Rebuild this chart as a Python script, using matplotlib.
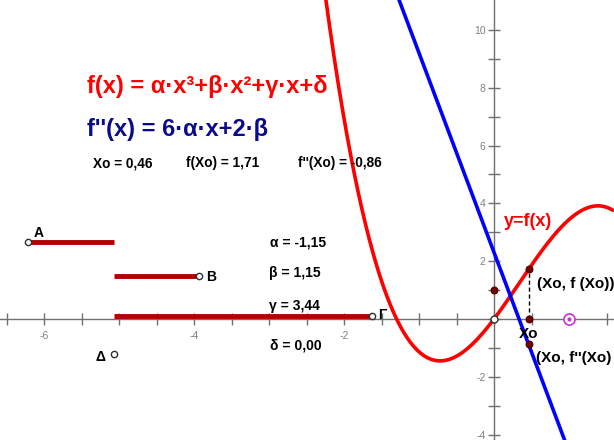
import matplotlib.pyplot as plt
import numpy as np

plt.rcParams['font.family'] = ['Liberation Sans', 'DejaVu Sans']

# slider values and the chosen point Xo
alpha, beta, gamma, delta = -1.15, 1.15, 3.44, 0.00
x0 = 0.46
fx0_txt = '1,71'
f2x0_txt = '-0,86'

x_ticks = np.arange(-6.5, 1.51, 0.5)
x_labels = [-6, -4, -2]
y_ticks = np.arange(-4, 11)
y_labels = [-4, -2, 2, 4, 6, 8, 10]

W, H = 614, 440
fig = plt.figure(figsize=(W / 100, H / 100), dpi=100)
ax = fig.add_axes([0, 0, 1, 1])
ax.set_xlim(-6.59, 1.60)
ax.set_ylim(-4.19, 11.04)


def ftxt(px, py, s, **kw):
    # place text by pixel position of the picture
    fig.text(px / W, 1 - py / H, s, zorder=1, **kw)


# ------------------------------- axes ------------------------------- #
for side in ['top', 'right']:
    ax.spines[side].set_visible(False)
for side in ['left', 'bottom']:
    ax.spines[side].set_position(('data', 0))
    ax.spines[side].set_color('#707070')
    ax.spines[side].set_linewidth(1)
    ax.spines[side].set_zorder(0.5)

ax.set_xticks(x_ticks)
ax.set_xticklabels([str(int(t)) if t in x_labels else '' for t in x_ticks])
ax.set_yticks(y_ticks)
ax.set_yticklabels([str(int(t)) if t in y_labels else '' for t in y_ticks])
ax.tick_params(direction='inout', length=8, width=1, color='#707070',
               labelcolor='#808080', labelsize=7.5, pad=2)
ax.tick_params(axis='x', pad=5)

# ------------------------------ curves ------------------------------ #
xs = np.linspace(-6.6, 1.6, 1000)
f = alpha * xs**3 + beta * xs**2 + gamma * xs + delta
f2 = 6 * alpha * xs + 2 * beta
ax.plot(xs, f, color='#ff0000', lw=2.6, zorder=3, solid_capstyle='butt')
ax.plot(xs, f2, color='#0000ff', lw=2.6, zorder=4, solid_capstyle='butt')

fx0 = alpha * x0**3 + beta * x0**2 + gamma * x0 + delta
f2x0 = 6 * alpha * x0 + 2 * beta
ax.plot([x0, x0], [0, fx0], color='black', lw=1, dashes=(3, 2), zorder=5)

pt = dict(marker='o', ms=5, mfc='#7a0000', mec='#400000', mew=0.7, ls='none', zorder=6)
ax.plot([x0, x0, x0, 0], [fx0, 0, f2x0, 1], **pt)
ax.plot([0], [0], marker='o', ms=5, mfc='white', mec='#303030', mew=1, zorder=6)
ax.plot([1], [0], marker='o', ms=8, mfc='white', mec='#cc33cc', mew=1.2, zorder=6)
ax.plot([1], [0], marker='o', ms=3, mfc='#cc33cc', mec='none', zorder=7)

# ------------------------------ sliders ----------------------------- #
sl = dict(color='#b00000', lw=3.5, solid_capstyle='butt', zorder=3)
end = dict(marker='o', ms=4.5, mfc='white', mec='#303030', mew=1, zorder=6)
ax.plot([-6.21, -5.07], [2.66, 2.66], **sl)
ax.plot([-6.21], [2.66], **end)
ax.plot([-5.07, -3.93], [1.49, 1.49], **sl)
ax.plot([-3.93], [1.49], **end)
ax.plot([-5.07, -1.63], [0.09, 0.09], **sl)
ax.plot([-1.63], [0.09], **end)
ax.plot([-5.07], [-1.21], **end)

bold = dict(fontweight='bold', va='center')
ftxt(34, 233, 'A', fontsize=10, **bold)
ftxt(206, 277, 'B', fontsize=10, **bold)
ftxt(378, 315, 'Γ', fontsize=10, **bold)
ftxt(95, 357, 'Δ', fontsize=10, **bold)

ftxt(270, 242, 'α = ' + f'{alpha:.2f}'.replace('.', ','), fontsize=10, **bold)
ftxt(269, 273, 'β = ' + f'{beta:.2f}'.replace('.', ','), fontsize=10, **bold)
ftxt(269, 306, 'γ = ' + f'{gamma:.2f}'.replace('.', ','), fontsize=10, **bold)
ftxt(270, 345, 'δ = ' + f'{delta:.2f}'.replace('.', ','), fontsize=10, **bold)

# ----------------------------- formulas ----------------------------- #
ftxt(87, 87, 'f(x) = α·x³+β·x²+γ·x+δ', fontsize=17, color='#ff0000', **bold)
ftxt(87, 129, "f''(x) = 6·α·x+2·β", fontsize=17, color='#0a0a8c', **bold)
ftxt(93, 163, 'Xo = ' + f'{x0:.2f}'.replace('.', ','), fontsize=9.8, **bold)
ftxt(186, 163, 'f(Xo) = ' + fx0_txt, fontsize=9.8, **bold)
ftxt(298, 163, "f''(Xo) = " + f2x0_txt, fontsize=9.8, **bold)

ftxt(504, 221, 'y=f(x)', fontsize=13, color='#ff0000', **bold)
ftxt(537, 284, '(Xo, f (Xo))', fontsize=11, **bold)
ftxt(519, 334, 'Xo', fontsize=11, **bold)
ftxt(536, 358, "(Xo, f''(Xo)", fontsize=11, **bold)

fig.savefig('out.png', dpi=100)
